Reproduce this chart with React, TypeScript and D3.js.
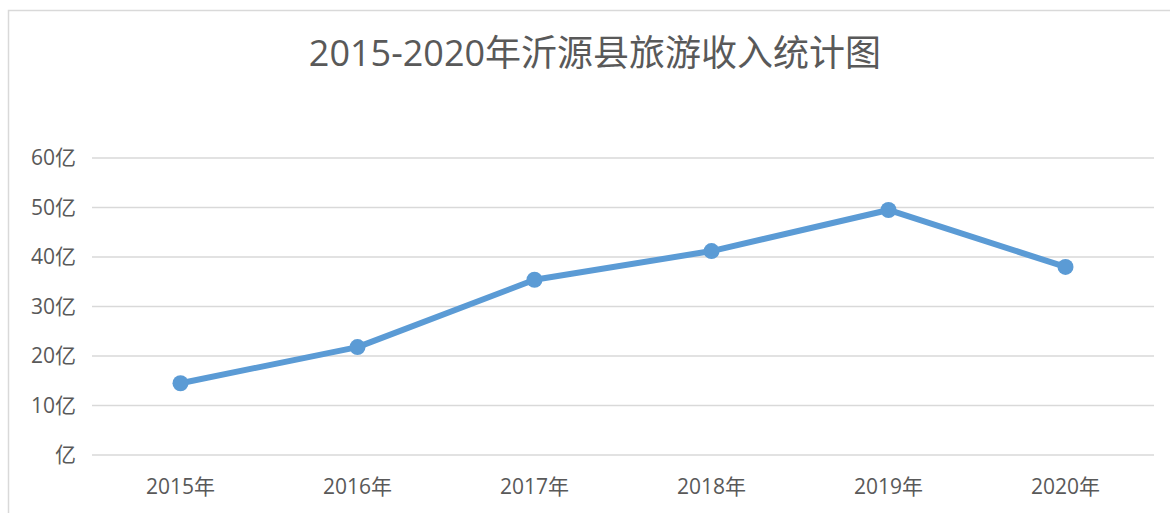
import React from "react";
import * as d3 from "d3";

const categories = ["2015年", "2016年", "2017年", "2018年", "2019年", "2020年"];
const values = [14.5, 21.8, 35.4, 41.2, 49.5, 38.0];
const yTicks = [0, 10, 20, 30, 40, 50, 60];
const title = "2015-2020年沂源县旅游收入统计图";

const W = 1170;
const H = 513;
const plot = { left: 92, right: 1154, top: 158, bottom: 455 };
const font = "'Open Sans', 'Noto Sans CJK SC', sans-serif";

export default function App() {
  const x = d3
    .scaleBand<string>()
    .domain(categories)
    .range([plot.left, plot.right]);
  const y = d3.scaleLinear().domain([0, 60]).range([plot.bottom, plot.top]);
  const cx = (c: string) => (x(c) ?? 0) + x.bandwidth() / 2;
  const line = d3
    .line<number>()
    .x((_, i) => cx(categories[i]))
    .y((d) => y(d));

  return (
    <svg
      width={W}
      height={H}
      style={{ position: "absolute", left: 0, top: 0, background: "#fff" }}
    >
      <rect x={8.5} y={10.5} width={1200} height={600} fill="#fff" stroke="#d9d9d9" strokeWidth={1.5} />
      <text
        x={595}
        y={66}
        textAnchor="middle"
        fontFamily={font}
        fontSize={36}
        fill="#595959"
      >
        {title}
      </text>
      {yTicks.map((t) => (
        <g key={t}>
          <line
            x1={plot.left}
            x2={plot.right}
            y1={y(t)}
            y2={y(t)}
            stroke="#d9d9d9"
            strokeWidth={1.5}
          />
          <text
            x={76}
            y={y(t)}
            dy="0.35em"
            textAnchor="end"
            fontFamily={font}
            fontSize={21}
            fill="#595959"
          >
            {t === 0 ? "亿" : `${t}亿`}
          </text>
        </g>
      ))}
      {categories.map((c) => (
        <text
          key={c}
          x={cx(c)}
          y={487}
          dy="0.35em"
          textAnchor="middle"
          fontFamily={font}
          fontSize={21}
          fill="#595959"
        >
          {c}
        </text>
      ))}
      <path
        d={line(values) ?? ""}
        fill="none"
        stroke="#5b9bd5"
        strokeWidth={6}
        strokeLinejoin="round"
      />
      {values.map((v, i) => (
        <circle key={i} cx={cx(categories[i])} cy={y(v)} r={8} fill="#5b9bd5" />
      ))}
    </svg>
  );
}
